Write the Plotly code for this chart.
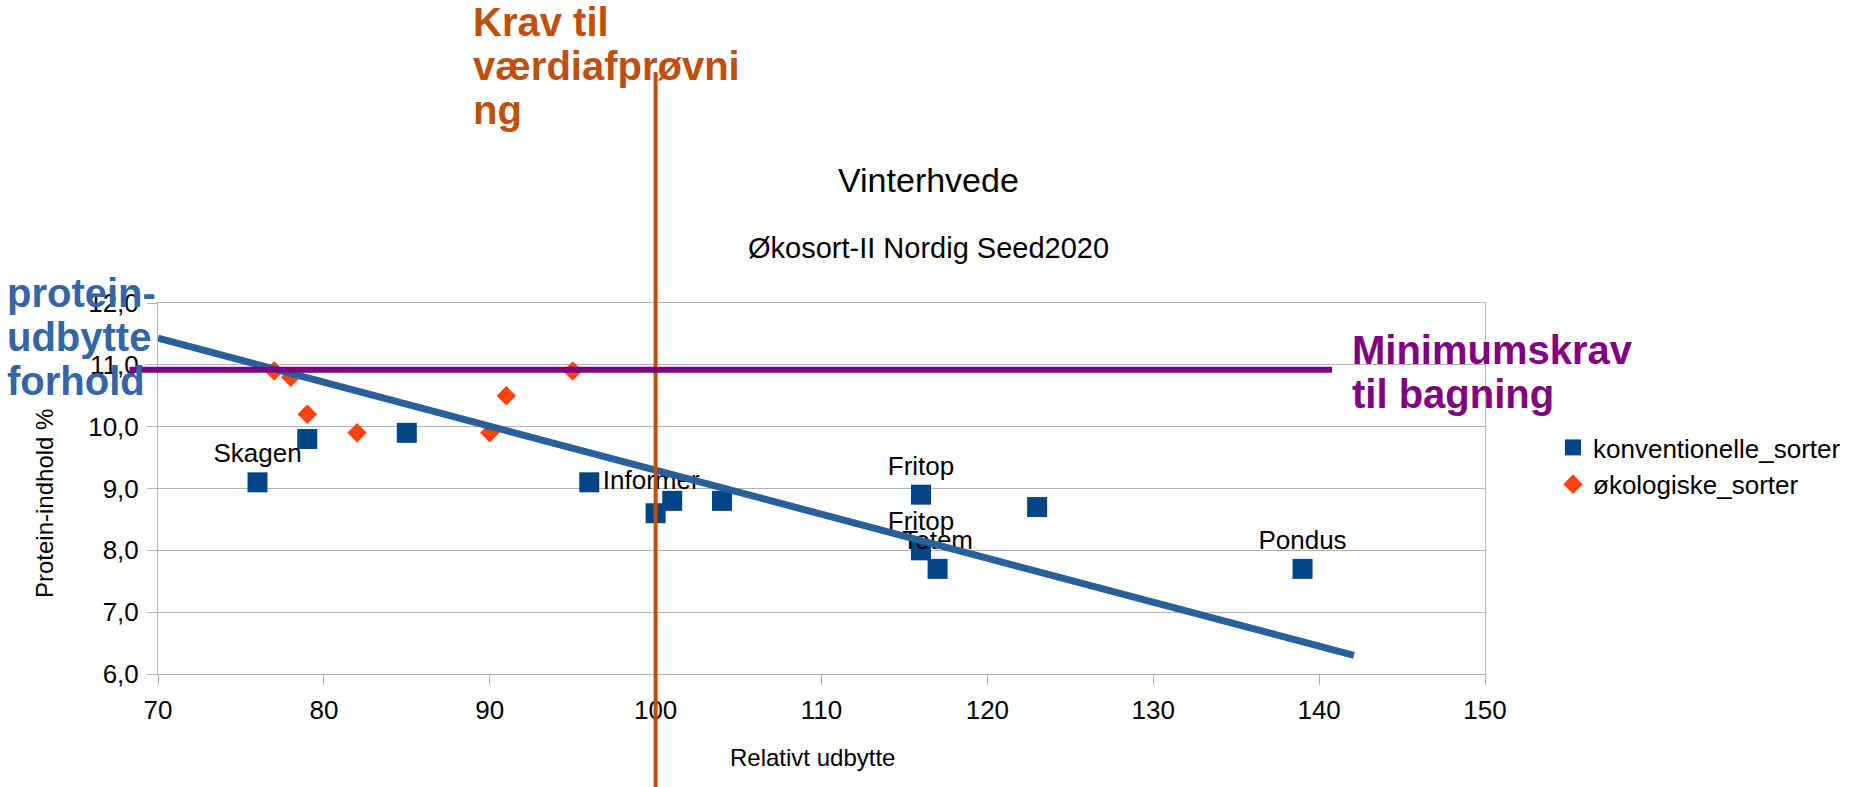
import plotly.graph_objects as go

# ---- data ----
konv_x = [76, 79, 85, 96, 100, 101, 104, 116, 116, 117, 123, 139]
konv_y = [9.1, 9.8, 9.9, 9.1, 8.6, 8.8, 8.8, 8.9, 8.0, 7.7, 8.7, 7.7]
konv_labels = ["Skagen", "", "", "Informer", "", "", "", "Fritop", "Fritop", "Totem", "", "Pondus"]
konv_labelpos = ["top center", "top center", "top center", "middle right", "top center", "top center",
                 "top center", "top center", "top center", "top center", "top center", "top center"]

oeko_x = [77, 78, 79, 82, 90, 91, 95]
oeko_y = [10.9, 10.8, 10.2, 9.9, 9.9, 10.5, 10.9]

trend_x = [70, 142.1]
trend_y = [11.43, 6.3]

krav_vaerdi_x = 100
min_bagning_y = 10.92

x_ticks = [70, 80, 90, 100, 110, 120, 130, 140, 150]
y_ticks = [6, 7, 8, 9, 10, 11, 12]
y_ticktext = ["6,0", "7,0", "8,0", "9,0", "10,0", "11,0", "12,0"]

# ---- layout helpers (pixel -> paper) ----
W, H = 1854, 787
L, R, T, B = 158, 1485, 303, 674


def px(xp):
    return (xp - L) / (R - L)


def py(yp):
    return (B - yp) / (B - T)


FONT = "Liberation Sans, Arial, sans-serif"
GRID = "#b3b3b3"

fig = go.Figure()

fig.add_trace(go.Scatter(
    x=konv_x, y=konv_y, mode="markers+text", name="konventionelle_sorter",
    marker=dict(symbol="square", size=20, color="#004586"),
    text=konv_labels, textposition=konv_labelpos,
    textfont=dict(size=26, color="black", family=FONT),
    cliponaxis=False,
))
fig.add_trace(go.Scatter(
    x=oeko_x, y=oeko_y, mode="markers", name="økologiske_sorter",
    marker=dict(symbol="diamond", size=15, color="#ff420e"),
    cliponaxis=False,
))
fig.add_trace(go.Scatter(
    x=trend_x, y=trend_y, mode="lines", showlegend=False, hoverinfo="skip",
    line=dict(color="#2a6099", width=7),
))

shapes = [
    dict(type="line", xref="x", yref="paper", x0=krav_vaerdi_x, x1=krav_vaerdi_x,
         y0=py(795), y1=py(72), line=dict(color="#c04f0c", width=4), layer="above"),
    dict(type="line", xref="x domain", yref="y", x0=px(129.5), x1=px(1332),
         y0=min_bagning_y, y1=min_bagning_y, line=dict(color="#800080", width=6), layer="above"),
]

annotations = []


def ann(text, xp, yp, size, color="black", bold=False, xanchor="center", textangle=0):
    annotations.append(dict(
        text=("<b>%s</b>" % text) if bold else text,
        xref="paper", yref="paper", x=px(xp), y=py(yp),
        xanchor=xanchor, yanchor="middle", showarrow=False, textangle=textangle,
        font=dict(family=FONT, size=size, color=color),
    ))


ann("Vinterhvede", 929, 180, 34)
ann("Økosort-II Nordig Seed2020", 929, 248, 29)
ann("Relativt udbytte", 812, 757, 24)
ann("Protein-indhold %", 44, 504, 24, textangle=-90)

for t, yy in zip(["Krav til", "værdiafprøvni", "ng"], [22, 66, 110]):
    ann(t, 471, yy, 40, color="#c04f0c", bold=True, xanchor="left")
for t, yy in zip(["Minimumskrav", "til bagning"], [350, 394]):
    ann(t, 1350, yy, 40, color="#800080", bold=True, xanchor="left")
for t, yy in zip(["protein-", "udbytte", "forhold"], [293, 337, 381]):
    ann(t, 5, yy, 40, color="#3465a4", bold=True, xanchor="left")

fig.update_layout(
    width=W, height=H,
    margin=dict(l=L, r=W - R, t=T, b=H - B, pad=0, autoexpand=False),
    paper_bgcolor="white", plot_bgcolor="white",
    font=dict(family=FONT, size=26, color="black"),
    shapes=shapes, annotations=annotations,
    legend=dict(x=px(1553), y=py(424), xanchor="left", yanchor="top",
                font=dict(size=26, family=FONT), bgcolor="rgba(0,0,0,0)",
                tracegroupgap=0, itemwidth=30),
    showlegend=True,
)
fig.update_xaxes(
    range=[70, 150], tickvals=x_ticks, showgrid=False, zeroline=False,
    showline=True, mirror=True, linecolor=GRID, linewidth=1,
    ticks="outside", ticklen=10, tickcolor=GRID, ticklabelstandoff=3,
    tickfont=dict(size=26, family=FONT),
)
fig.update_yaxes(
    range=[6, 12], tickvals=y_ticks, ticktext=y_ticktext, showgrid=True, gridcolor=GRID,
    zeroline=False, showline=True, mirror=True, linecolor=GRID, linewidth=1,
    ticks="outside", ticklen=10, tickcolor=GRID, ticklabelstandoff=3,
    tickfont=dict(size=26, family=FONT),
)

fig.write_html("out.html", config={"displayModeBar": False},
               post_script="document.body.style.margin='0';")
